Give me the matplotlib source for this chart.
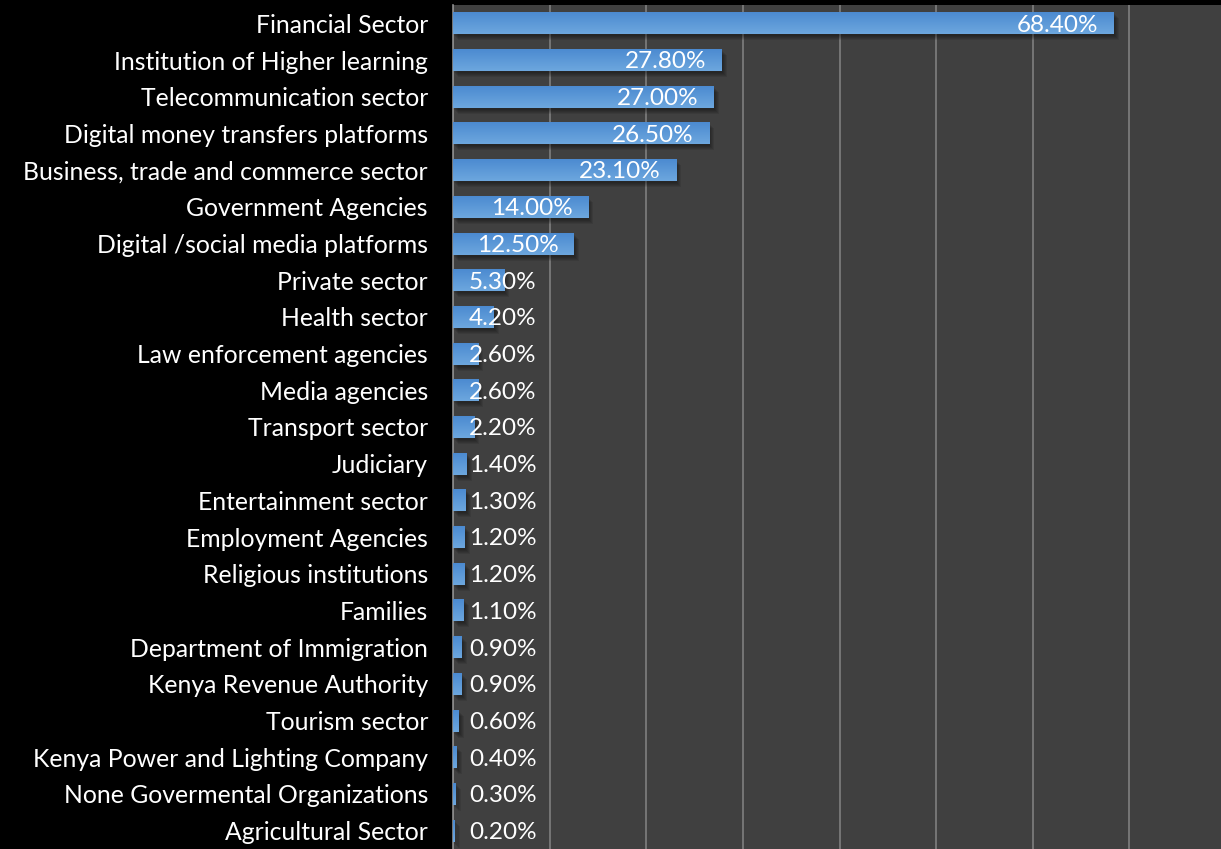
import numpy as np
import matplotlib.pyplot as plt
from matplotlib.colors import LinearSegmentedColormap
from matplotlib.patches import Rectangle
import matplotlib.transforms as mtransforms

# Sectors and share of respondents (%)
sectors = [
    'Financial Sector', 'Institution of Higher learning', 'Telecommunication sector',
    'Digital money transfers platforms', 'Business, trade and commerce sector',
    'Government Agencies', 'Digital /social media platforms', 'Private sector',
    'Health sector', 'Law enforcement agencies', 'Media agencies', 'Transport sector',
    'Judiciary', 'Entertainment sector', 'Employment Agencies', 'Religious institutions',
    'Families', 'Department of Immigration', 'Kenya Revenue Authority', 'Tourism sector',
    'Kenya Power and Lighting Company', 'None Govermental Organizations', 'Agricultural Sector',
]
shares = [68.4, 27.8, 27.0, 26.5, 23.1, 14.0, 12.5, 5.3, 4.2, 2.6, 2.6, 2.2,
          1.4, 1.3, 1.2, 1.2, 1.1, 0.9, 0.9, 0.6, 0.4, 0.3, 0.2]

plt.rcParams['font.family'] = ['Lato', 'DejaVu Sans']

fig = plt.figure(figsize=(12.21, 8.49), dpi=100, facecolor='black')
ax = fig.add_axes([453 / 1221, 0.0, (1226 - 453) / 1221, 844 / 849])
ax.set_facecolor('#404040')

y = np.arange(len(sectors))
h = 0.6
grad = LinearSegmentedColormap.from_list('barfill', ['#4a89d0', '#6da7de'])

bars = ax.barh(y, shares, height=h, color='none', zorder=3)
for rect, v in zip(bars, shares):
    yc = rect.get_y()
    # soft drop shadow: a few faint layers shifted down/right
    for dx, dy in [(1, -2), (2, -3), (3, -4), (4, -5), (5, -6)]:
        off = mtransforms.offset_copy(ax.transData, fig=fig, x=dx, y=dy, units='dots')
        ax.add_patch(Rectangle((0, yc), v, h, facecolor='black', alpha=0.09,
                               transform=off, zorder=2, linewidth=0))
    # vertical gradient fill clipped to the bar
    img = ax.imshow(np.linspace(0, 1, 64).reshape(-1, 1), cmap=grad, aspect='auto',
                    extent=(0, v, yc + h, yc), origin='upper', zorder=3,
                    interpolation='bilinear')
    img.set_clip_path(rect)

ax.set_xlim(0, 80)
ax.set_ylim(len(sectors) - 0.5, -0.5)
ax.set_xticks(np.arange(0, 81, 10))
ax.xaxis.grid(True, color='#7f7f7f', linewidth=1.2, zorder=1)
ax.set_axisbelow(True)
ax.tick_params(axis='x', length=0, labelbottom=False)
ax.set_yticks(y)
ax.set_yticklabels(sectors, color='white', fontsize=17.8)
ax.tick_params(axis='y', length=0, pad=18)
for side in ['top', 'right', 'bottom']:
    ax.spines[side].set_visible(False)
ax.spines['left'].set_color('#8c8c8c')
ax.spines['left'].set_linewidth(1.2)

# value labels: inside the bar end, or just right of the axis for short bars
for yi, v in zip(y, shares):
    txt = f'{v:.2f}%'
    if v >= 10:
        ax.text(v - 1.6, yi + 0.05, txt, ha='right', va='center', color='white',
                fontsize=17.5, zorder=5)
    else:
        ax.text(1.65, yi + 0.05, txt, ha='left', va='center', color='white',
                fontsize=17.5, zorder=5)

fig.savefig('out.png', dpi=100, facecolor='black')
